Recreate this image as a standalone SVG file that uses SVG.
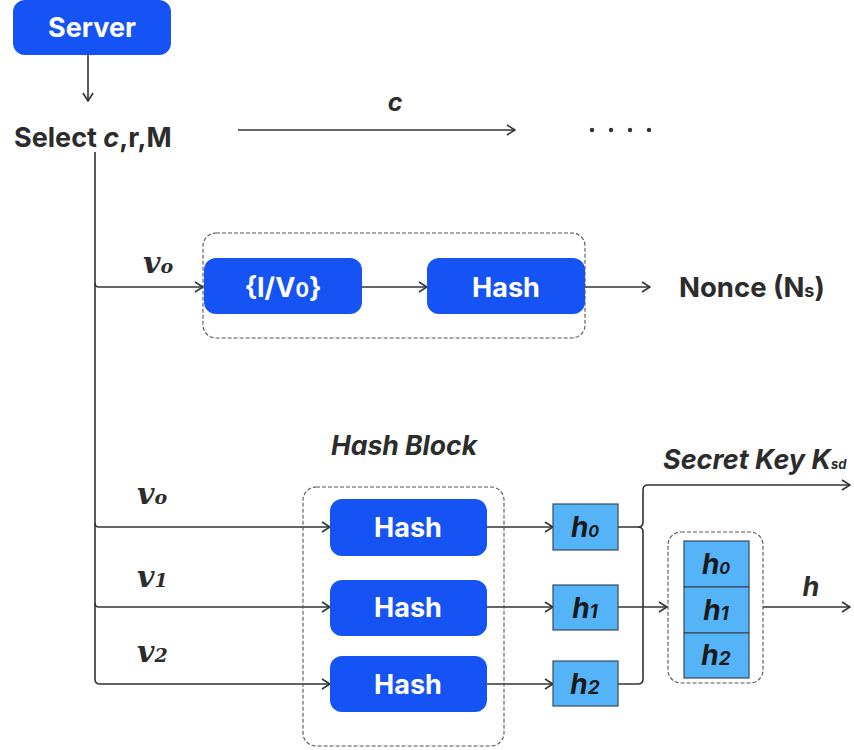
<svg xmlns="http://www.w3.org/2000/svg" width="854" height="750" viewBox="0 0 854 750">
<style>
.blue{fill:#1553F5}
.lb{fill:#55B3F8;stroke:#3a4a5a;stroke-width:1.2}
.dash{fill:none;stroke:#555;stroke-width:1.1;stroke-dasharray:4 2}
.w{fill:#fff;font-family:Inter,"Liberation Sans",sans-serif;font-weight:700;font-size:27px;text-anchor:middle}
.t{fill:#2c2c2c;font-family:Inter,"Liberation Sans",sans-serif;font-weight:700}
.it{font-style:italic}
.v{fill:#2c2c2c;font-family:"DejaVu Serif","Liberation Serif",serif;font-weight:700;font-style:italic;font-size:30px}
.hb{fill:#1a1a1a;font-family:Inter,"Liberation Sans",sans-serif;font-weight:700;font-style:italic;font-size:28px;text-anchor:middle}
.ln{fill:none;stroke:#333;stroke-width:1.6}
</style>
<defs>
<marker id="a" viewBox="0 0 10 12" refX="9" refY="6" markerWidth="10" markerHeight="12" markerUnits="userSpaceOnUse" orient="auto">
<path d="M1,1 L9,6 L1,11" fill="none" stroke="#333" stroke-width="1.6"/>
</marker>
</defs>
<g id="connectors">
<path class="ln" d="M88,55 V101" marker-end="url(#a)"/>
<path class="ln" d="M238,130 H515" marker-end="url(#a)"/>
<path class="ln" d="M95,152 V679 Q95,684 100,684 H330" marker-end="url(#a)"/>
<path class="ln" d="M95,283 Q95,287 99,287 H203" marker-end="url(#a)"/>
<path class="ln" d="M362,287 H427" marker-end="url(#a)"/>
<path class="ln" d="M585,287 H650" marker-end="url(#a)"/>
<path class="ln" d="M95,523 Q95,527 99,527 H330" marker-end="url(#a)"/>
<path class="ln" d="M95,603 Q95,607 99,607 H330" marker-end="url(#a)"/>
<path class="ln" d="M487,527 H553" marker-end="url(#a)"/>
<path class="ln" d="M487,607 H553" marker-end="url(#a)"/>
<path class="ln" d="M487,684 H553" marker-end="url(#a)"/>
<path class="ln" d="M618,527 H638 Q643,527 643,522 V490 Q643,485 648,485 H850" marker-end="url(#a)"/>
<path class="ln" d="M638,527 Q643,527 643,532 V679 Q643,684 638,684 H618"/>
<path class="ln" d="M618,607 H667" marker-end="url(#a)"/>
<path class="ln" d="M763,607 H850" marker-end="url(#a)"/>
<g fill="#333"><circle cx="592" cy="130" r="2.2"/><circle cx="611" cy="130" r="2.2"/><circle cx="630" cy="130" r="2.2"/><circle cx="649" cy="130" r="2.2"/></g>
</g>
<g id="server"><rect class="blue" x="13" y="0" width="158" height="55" rx="12"/><text class="w" x="92" y="37">Server</text></g>
<g id="select"><text class="t" x="14" y="147" font-size="27">Select <tspan class="it">c</tspan>,r,M</text></g>
<text class="t it" x="395" y="111" font-size="25" text-anchor="middle">c</text>
<rect class="dash" x="203" y="233" width="382" height="105" rx="13"/>
<g id="iv0"><rect class="blue" x="204" y="258" width="158" height="56" rx="12"/><text class="w" x="283" y="297">{I/V<tspan font-size="20">0</tspan>}</text></g>
<g id="hash-top"><rect class="blue" x="427" y="258" width="158" height="56" rx="12"/><text class="w" x="506" y="297">Hash</text></g>
<g id="nonce"><text class="t" x="679" y="297" font-size="27.5">Nonce (N<tspan font-size="18">s</tspan>)</text></g>
<text class="v" x="143" y="273">v<tspan font-size="19">o</tspan></text>
<text class="t it" x="404" y="455" font-size="26.5" text-anchor="middle">Hash Block</text>
<rect class="dash" x="303" y="487" width="201" height="259" rx="13"/>
<text class="v" x="137" y="504">v<tspan font-size="19">o</tspan></text>
<text class="v" x="137" y="587">v<tspan font-size="19">1</tspan></text>
<text class="v" x="137" y="662">v<tspan font-size="19">2</tspan></text>
<g id="hash0"><rect class="blue" x="330" y="499" width="157" height="57" rx="12"/><text class="w" x="408" y="537">Hash</text></g>
<g id="hash1"><rect class="blue" x="330" y="580" width="157" height="56" rx="12"/><text class="w" x="408" y="617">Hash</text></g>
<g id="hash2"><rect class="blue" x="330" y="656" width="157" height="56" rx="12"/><text class="w" x="408" y="694">Hash</text></g>
<g id="h0"><rect class="lb" x="553" y="504" width="65" height="46"/><text class="hb" x="585" y="537">h<tspan font-size="16">0</tspan></text></g>
<g id="h1"><rect class="lb" x="553" y="585" width="65" height="45"/><text class="hb" x="585" y="618">h<tspan font-size="19">1</tspan></text></g>
<g id="h2"><rect class="lb" x="553" y="661" width="65" height="45"/><text class="hb" x="585" y="694">h<tspan font-size="19">2</tspan></text></g>
<text class="t it" x="663" y="469" font-size="27">Secret Key K<tspan font-size="13">sd</tspan></text>
<rect class="dash" x="668" y="532" width="95" height="151" rx="13"/>
<g id="stack">
<rect class="lb" x="684" y="541" width="65" height="46"/><text class="hb" x="716" y="574">h<tspan font-size="16">0</tspan></text>
<rect class="lb" x="684" y="587" width="65" height="46"/><text class="hb" x="716" y="620">h<tspan font-size="19">1</tspan></text>
<rect class="lb" x="684" y="633" width="65" height="45"/><text class="hb" x="716" y="665">h<tspan font-size="19">2</tspan></text>
</g>
<text class="t it" x="811" y="596" font-size="27" text-anchor="middle">h</text>
</svg>
